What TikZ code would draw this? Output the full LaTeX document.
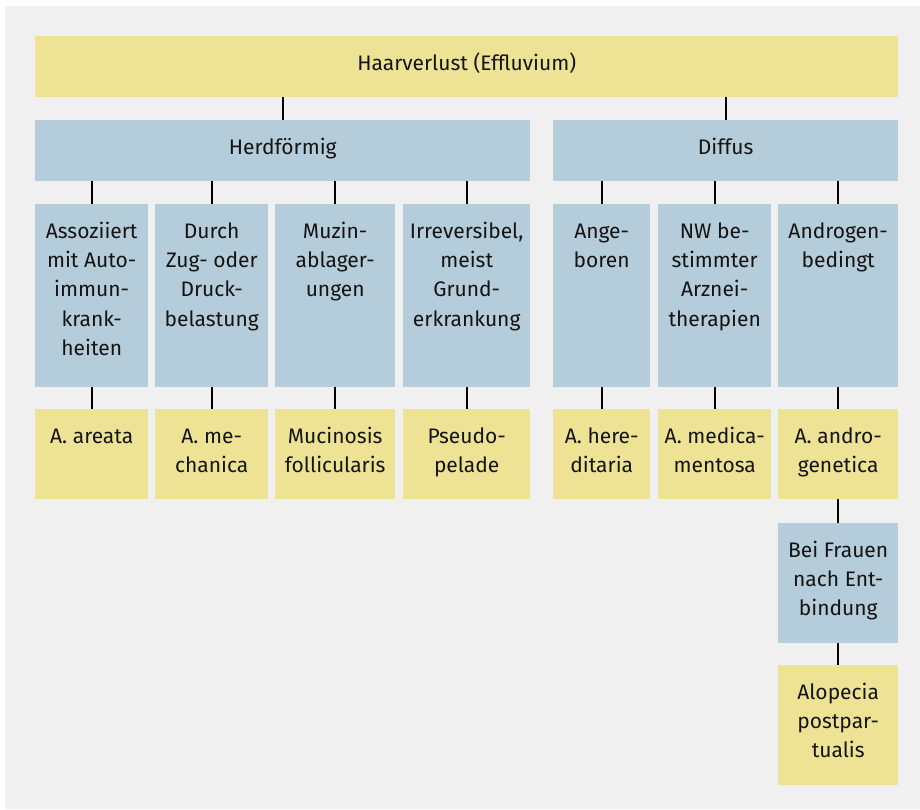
\documentclass[tikz,border=0pt]{standalone}
\usepackage{fontspec}
\setmainfont{Fira Sans}
\definecolor{bgGray}{HTML}{F0F0F0}
\definecolor{cellYellow}{HTML}{EEE295}
\definecolor{cellBlue}{HTML}{B5CCDA}
\definecolor{inkDark}{HTML}{141414}
% cell content: width, height, text; first baseline sits 34pt below the top edge
\newcommand{\celltext}[3]{\parbox[t][#2][t]{#1}{\centering\rule{0pt}{34pt}#3}}
\tikzset{
  cell/.style={inner sep=0pt, anchor=north west, text=inkDark},
  ylw/.style={cell, fill=cellYellow},
  blu/.style={cell, fill=cellBlue},
  link/.style={draw=black, line width=2pt}
}
\begin{document}
\begin{tikzpicture}[x=1pt, y=-1pt, font=\fontsize{21}{29.3}\selectfont]
\useasboundingbox (0,0) rectangle (920,809);
\fill[bgGray] (5,6) rectangle (920,809);

% level 1
\node[ylw] (top) at (35,36) {\celltext{863pt}{61pt}{Haarverlust (Effluvium)}};
% level 2
\node[blu] (herd) at (35,120) {\celltext{495pt}{61pt}{Herdförmig}};
\node[blu] (diff) at (553,120) {\celltext{345pt}{61pt}{Diffus}};
% level 3
\node[blu] (a1) at (35,204)  {\celltext{113pt}{183pt}{Assoziiert\\mit Auto-\\immun-\\krank-\\heiten}};
\node[blu] (a2) at (155,204) {\celltext{113pt}{183pt}{Durch\\Zug- oder\\Druck-\\belastung}};
\node[blu] (a3) at (275,204) {\celltext{120pt}{183pt}{Muzin-\\ablager-\\ungen}};
\node[blu] (a4) at (403,204) {\celltext{127pt}{183pt}{Irreversibel,\\meist\\Grund-\\erkrankung}};
\node[blu] (a5) at (553,204) {\celltext{97pt}{183pt}{Ange-\\boren}};
\node[blu] (a6) at (658,204) {\celltext{113pt}{183pt}{NW be-\\stimmter\\Arznei-\\therapien}};
\node[blu] (a7) at (778,204) {\celltext{120pt}{183pt}{Androgen-\\bedingt}};
% level 4
\node[ylw] (b1) at (35,409)  {\celltext{113pt}{90pt}{A. areata}};
\node[ylw] (b2) at (155,409) {\celltext{113pt}{90pt}{A. me-\\chanica}};
\node[ylw] (b3) at (275,409) {\celltext{120pt}{90pt}{Mucinosis\\follicularis}};
\node[ylw] (b4) at (403,409) {\celltext{127pt}{90pt}{Pseudo-\\pelade}};
\node[ylw] (b5) at (553,409) {\celltext{97pt}{90pt}{A. here-\\ditaria}};
\node[ylw] (b6) at (658,409) {\celltext{113pt}{90pt}{A. medica-\\mentosa}};
\node[ylw] (b7) at (778,409) {\celltext{120pt}{90pt}{A. andro-\\genetica}};
% levels 5 and 6
\node[blu] (c7) at (778,523) {\celltext{120pt}{120pt}{Bei Frauen\\nach Ent-\\bindung}};
\node[ylw] (d7) at (778,665) {\celltext{120pt}{120pt}{Alopecia\\postpar-\\tualis}};

% connectors
\draw[link] (herd.north) -- (herd.north |- top.south);
\draw[link] (diff.north) -- (diff.north |- top.south);
\foreach \n in {a1,a2,a3,a4} \draw[link] (\n.north) -- (\n.north |- herd.south);
\foreach \n in {a5,a6,a7} \draw[link] (\n.north) -- (\n.north |- diff.south);
\foreach \i in {1,...,7} \draw[link] (b\i.north) -- (a\i.south);
\draw[link] (c7.north) -- (b7.south);
\draw[link] (d7.north) -- (c7.south);
\end{tikzpicture}
\end{document}
